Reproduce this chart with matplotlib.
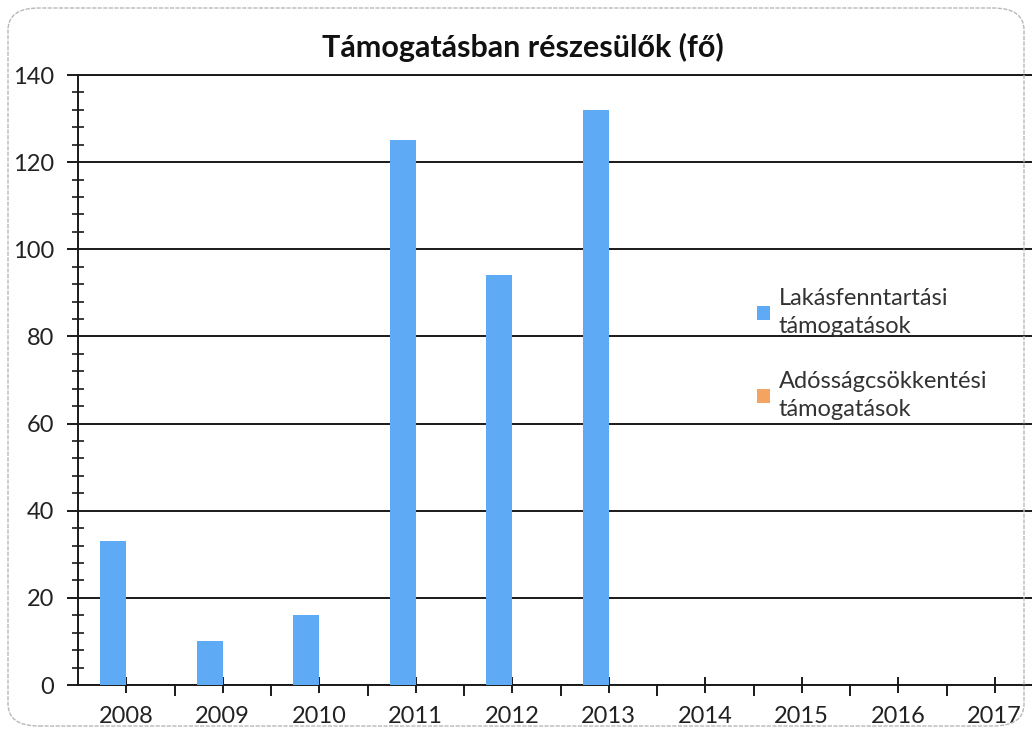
import matplotlib
matplotlib.use("Agg")
import matplotlib.pyplot as plt
from matplotlib.patches import FancyBboxPatch
from matplotlib.ticker import MultipleLocator, FixedLocator
import numpy as np

plt.rcParams['font.family'] = ['Lato', 'DejaVu Sans']

years = ["2008", "2009", "2010", "2011", "2012", "2013", "2014", "2015", "2016", "2017"]
lakas = [33, 10, 16, 125, 94, 132, 0, 0, 0, 0]
adossag = [0, 0, 0, 0, 0, 0, 0, 0, 0, 0]
series_names = ["Lakásfenntartási\ntámogatások", "Adósságcsökkentési\ntámogatások"]
title = "Támogatásban részesülők (fő)"

blue = "#5EAAF4"
orange = "#F4A460"

fig = plt.figure(figsize=(10.32, 7.34), dpi=100)
fig.patch.set_facecolor("white")

# rounded outer border
border = FancyBboxPatch((8 / 1032, 8 / 734), 1016 / 1032, 718 / 734,
                        boxstyle="round,pad=0,rounding_size=0.03",
                        transform=fig.transFigure, fill=False,
                        edgecolor="#b8b8b8", linewidth=1.0, linestyle=(0, (3, 1)))
fig.patches.append(border)

ax = fig.add_axes([78 / 1032, 1 - 685 / 734, 965 / 1032, 610 / 734])
x = np.arange(len(years))
w = 0.27
ax.bar(x - w / 2, lakas, width=w, color=blue, label=series_names[0], zorder=3)
ax.bar(x + w / 2, adossag, width=w, color=orange, label=series_names[1], zorder=3)

ax.set_xlim(-0.5, len(years) - 0.5)
ax.set_ylim(0, 140)

ax.yaxis.set_major_locator(MultipleLocator(20))
ax.yaxis.set_minor_locator(MultipleLocator(4))
ax.grid(axis="y", which="major", color="#1a1a1a", linewidth=1.4, zorder=1)
ax.set_axisbelow(True)

ax.set_xticks(x)
ax.set_xticklabels(years)
ax.xaxis.set_minor_locator(FixedLocator(x[:-1] + 0.5))

ax.spines["right"].set_visible(False)
for s in ["top", "left", "bottom"]:
    ax.spines[s].set_color("#1a1a1a")
    ax.spines[s].set_linewidth(1.4)

ax.tick_params(axis="y", which="major", direction="out", length=8, width=1.4,
               color="#1a1a1a", labelsize=17, labelcolor="#222222", pad=9)
ax.tick_params(axis="y", which="minor", direction="inout", length=9, width=1.2,
               color="#1a1a1a")
ax.tick_params(axis="x", which="major", direction="inout", length=12, width=1.4,
               color="#1a1a1a", labelsize=17, labelcolor="#222222", pad=9)
ax.tick_params(axis="x", which="minor", direction="out", length=8, width=1.4,
               color="#1a1a1a")

fig.text(523 / 1032, 1 - 47 / 734, title, ha="center", va="center",
         fontsize=22, fontweight="bold", color="#111111")

leg = ax.legend(loc="upper left", bbox_to_anchor=((736 - 78) / 965, (685 - 267) / 610),
                frameon=False, fontsize=17, handlelength=0.55, handleheight=0.55,
                handletextpad=0.35, labelspacing=1.45, labelcolor="#333333")
for t in leg.get_texts():
    t.set_linespacing(1.4)

fig.savefig("out.png", dpi=100)
